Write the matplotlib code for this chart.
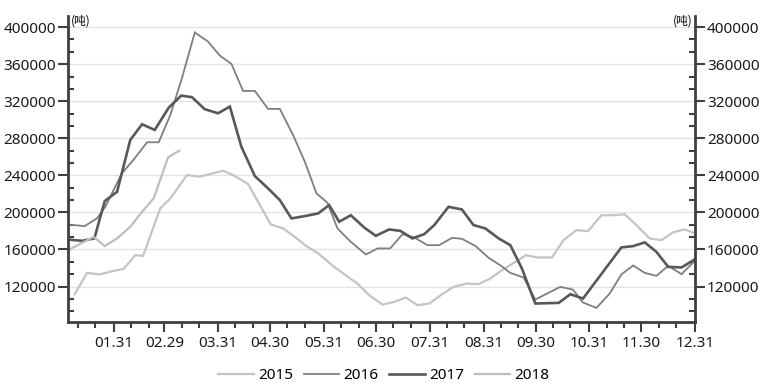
import matplotlib
matplotlib.use("Agg")
import matplotlib.pyplot as plt
from matplotlib.ticker import FixedLocator, MultipleLocator, FuncFormatter

plt.rcParams['font.family'] = ['Noto Sans', 'Noto Sans CJK SC', 'DejaVu Sans']

# ---- data (x = day of year on a leap-year calendar, y = tonnes) ----
days_2015 = [8.4, 15.5, 22.8, 29.9, 36.6, 43.3, 47.8, 57.7, 63.5, 73.1,
             80.4, 86.2, 93.9, 99.7, 108.3, 115.1, 121.4, 128.5, 135.2, 141.9,
             148.7, 157.9, 164.6, 171.3, 178.1, 185.8, 192.5, 199.2, 205.9, 212.7,
             219.6, 226.7, 234.4, 241.1, 247.9, 254.6, 262.3, 268.4, 275.4, 283.4,
             290.1, 297.5, 304.2, 311.9, 318.6, 325.3, 332.1, 339.7, 346.5, 353.2,
             359.9, 365.7]
vals_2015 = [111700, 134700, 133000, 136500, 139000, 153800, 153100, 204300, 215100, 240300,
             238500, 241400, 245000, 240300, 230600, 207900, 187000, 182700, 173600, 163600,
             155700, 141200, 132200, 123200, 110600, 100500, 103400, 108100, 99800, 101600,
             111000, 119600, 123200, 122500, 128700, 137600, 146600, 153800, 151300, 151300,
             170000, 180900, 179800, 196900, 196900, 198000, 186300, 171900, 170000, 178400,
             181700, 177300]

days_2016 = [3.9, 14.1, 21.2, 26.0, 35.6, 42.8, 50.1, 56.8, 63.5, 70.2,
             77.6, 85.2, 92.0, 98.7, 105.4, 112.2, 119.8, 126.6, 134.2, 141.0,
             147.7, 154.0, 159.8, 167.5, 176.2, 182.9, 190.2, 197.3, 204.0, 211.7,
             218.4, 225.8, 231.5, 239.2, 246.9, 253.6, 259.4, 267.1, 273.8, 280.6,
             288.2, 295.5, 301.3, 309.0, 316.7, 323.4, 330.2, 336.9, 343.6, 350.4,
             358.1, 365.7]
vals_2016 = [187000, 185200, 193500, 206000, 242200, 258000, 275700, 275700, 305200, 345000,
             394200, 384400, 369300, 360300, 331100, 331100, 311700, 311700, 283600, 254700,
             220500, 210400, 182700, 168200, 154600, 161100, 161100, 176500, 173000, 164600,
             164600, 172500, 171500, 163900, 151000, 143000, 134700, 129700, 105900, 112400,
             119600, 116700, 102700, 96900, 112400, 133000, 142700, 134700, 131500, 142300,
             133300, 147700]

days_2017 = [3.9, 12.6, 19.7, 25.7, 32.8, 40.4, 47.2, 54.5, 62.6, 69.8,
             76.0, 83.3, 91.0, 97.8, 104.4, 112.2, 119.8, 126.6, 133.3, 141.0,
             148.7, 155.0, 160.8, 167.5, 175.2, 181.9, 189.6, 196.0, 203.0, 209.8,
             215.6, 223.8, 231.5, 238.2, 245.0, 252.7, 259.4, 266.1, 273.8, 280.6,
             287.3, 294.0, 301.3, 323.4, 330.2, 336.9, 343.6, 350.4, 358.1, 365.7]
vals_2017 = [170800, 169300, 171900, 212200, 222300, 278200, 295100, 289000, 313100, 326100,
             324300, 311400, 307000, 314200, 271000, 239200, 225900, 213300, 193500, 196000,
             198900, 207900, 189900, 196900, 183700, 174700, 181600, 180100, 171900, 176500,
             186300, 206000, 203200, 186300, 182700, 171900, 164600, 139400, 101600, 102000,
             102300, 111700, 107000, 162200, 163600, 167600, 157400, 141200, 140600, 149200]

days_2018 = [4.5, 19.3, 25.7, 32.8, 40.4, 47.2, 53.9, 62.2, 68.7]
vals_2018 = [159200, 173600, 163600, 171900, 184400, 200600, 215100, 259500, 266600]

series_names = ['2015', '2016', '2017', '2018']

tick_days = [31, 60, 91, 121, 152, 182, 213, 244, 274, 305, 335, 366]
tick_labels = ['01.31', '02.29', '03.31', '04.30', '05.31', '06.30',
               '07.31', '08.31', '09.30', '10.31', '11.30', '12.31']
month_starts = [0, 31, 60, 91, 121, 152, 182, 213, 244, 274, 305, 335]
y_ticks = [120000, 160000, 200000, 240000, 280000, 320000, 360000, 400000]
unit_label = '(吨)'

# ---- figure ----
fig = plt.figure(figsize=(7.68, 3.90), dpi=100)
ax = fig.add_axes([0.0885, 0.1751, 0.9053 - 0.0885, 0.959 - 0.1751])

styles = [
    dict(color='#c4c4c4', lw=1.6),
    dict(color='#7f7f7f', lw=1.3),
    dict(color='#585858', lw=1.9),
    dict(color='#bebebe', lw=1.6),
]
data = [(days_2015, vals_2015), (days_2016, vals_2016),
        (days_2017, vals_2017), (days_2018, vals_2018)]
for (d, v), name, st in zip(data, series_names, styles):
    ax.plot(d, v, label=name, solid_joinstyle='miter', **st)

ax.set_xlim(4.5, 366)
ax.set_ylim(82000, 412000)

# grid
ax.set_axisbelow(True)
ax.yaxis.set_major_locator(FixedLocator(y_ticks))
ax.yaxis.set_minor_locator(MultipleLocator(40000 / 3))
ax.yaxis.set_major_formatter(FuncFormatter(lambda v, p: f"{int(round(v))}"))
ax.grid(axis='y', which='major', color='#e3e3e3', lw=1.0)

ax.xaxis.set_major_locator(FixedLocator(tick_days))
ax.set_xticklabels(tick_labels)
minor_days = [m + k for m in month_starts for k in (10, 20)]
ax.xaxis.set_minor_locator(FixedLocator(minor_days))

spine_col = '#404040'
for s in ['left', 'right', 'bottom']:
    ax.spines[s].set_color(spine_col)
    ax.spines[s].set_linewidth(2.0)
ax.spines['top'].set_visible(False)

ax.tick_params(axis='y', which='major', direction='out', length=7, width=1.5,
               color=spine_col, left=True, right=True, labelleft=True,
               labelright=True, labelsize=11, pad=1.5, labelcolor='#1a1a1a')
ax.tick_params(axis='y', which='minor', direction='in', length=4.5, width=1.5,
               color=spine_col, left=True, right=True)
ax.tick_params(axis='x', which='major', direction='out', length=7, width=1.5,
               color=spine_col, labelsize=11, pad=3, labelcolor='#1a1a1a')
ax.tick_params(axis='x', which='minor', direction='out', length=4, width=1.5,
               color=spine_col)

# unit labels
ax.text(0.004, 1.005, unit_label, transform=ax.transAxes, fontsize=8.5,
        ha='left', va='top', family=['Noto Sans CJK SC', 'DejaVu Sans'])
ax.text(0.996, 1.005, unit_label, transform=ax.transAxes, fontsize=8.5,
        ha='right', va='top', family=['Noto Sans CJK SC', 'DejaVu Sans'])

leg = fig.legend(loc='center', bbox_to_anchor=(0.5, 0.036), ncol=4, frameon=False,
                 fontsize=11, handlelength=2.3, handletextpad=0.3,
                 columnspacing=0.7)

fig.savefig('out.png', dpi=100)
